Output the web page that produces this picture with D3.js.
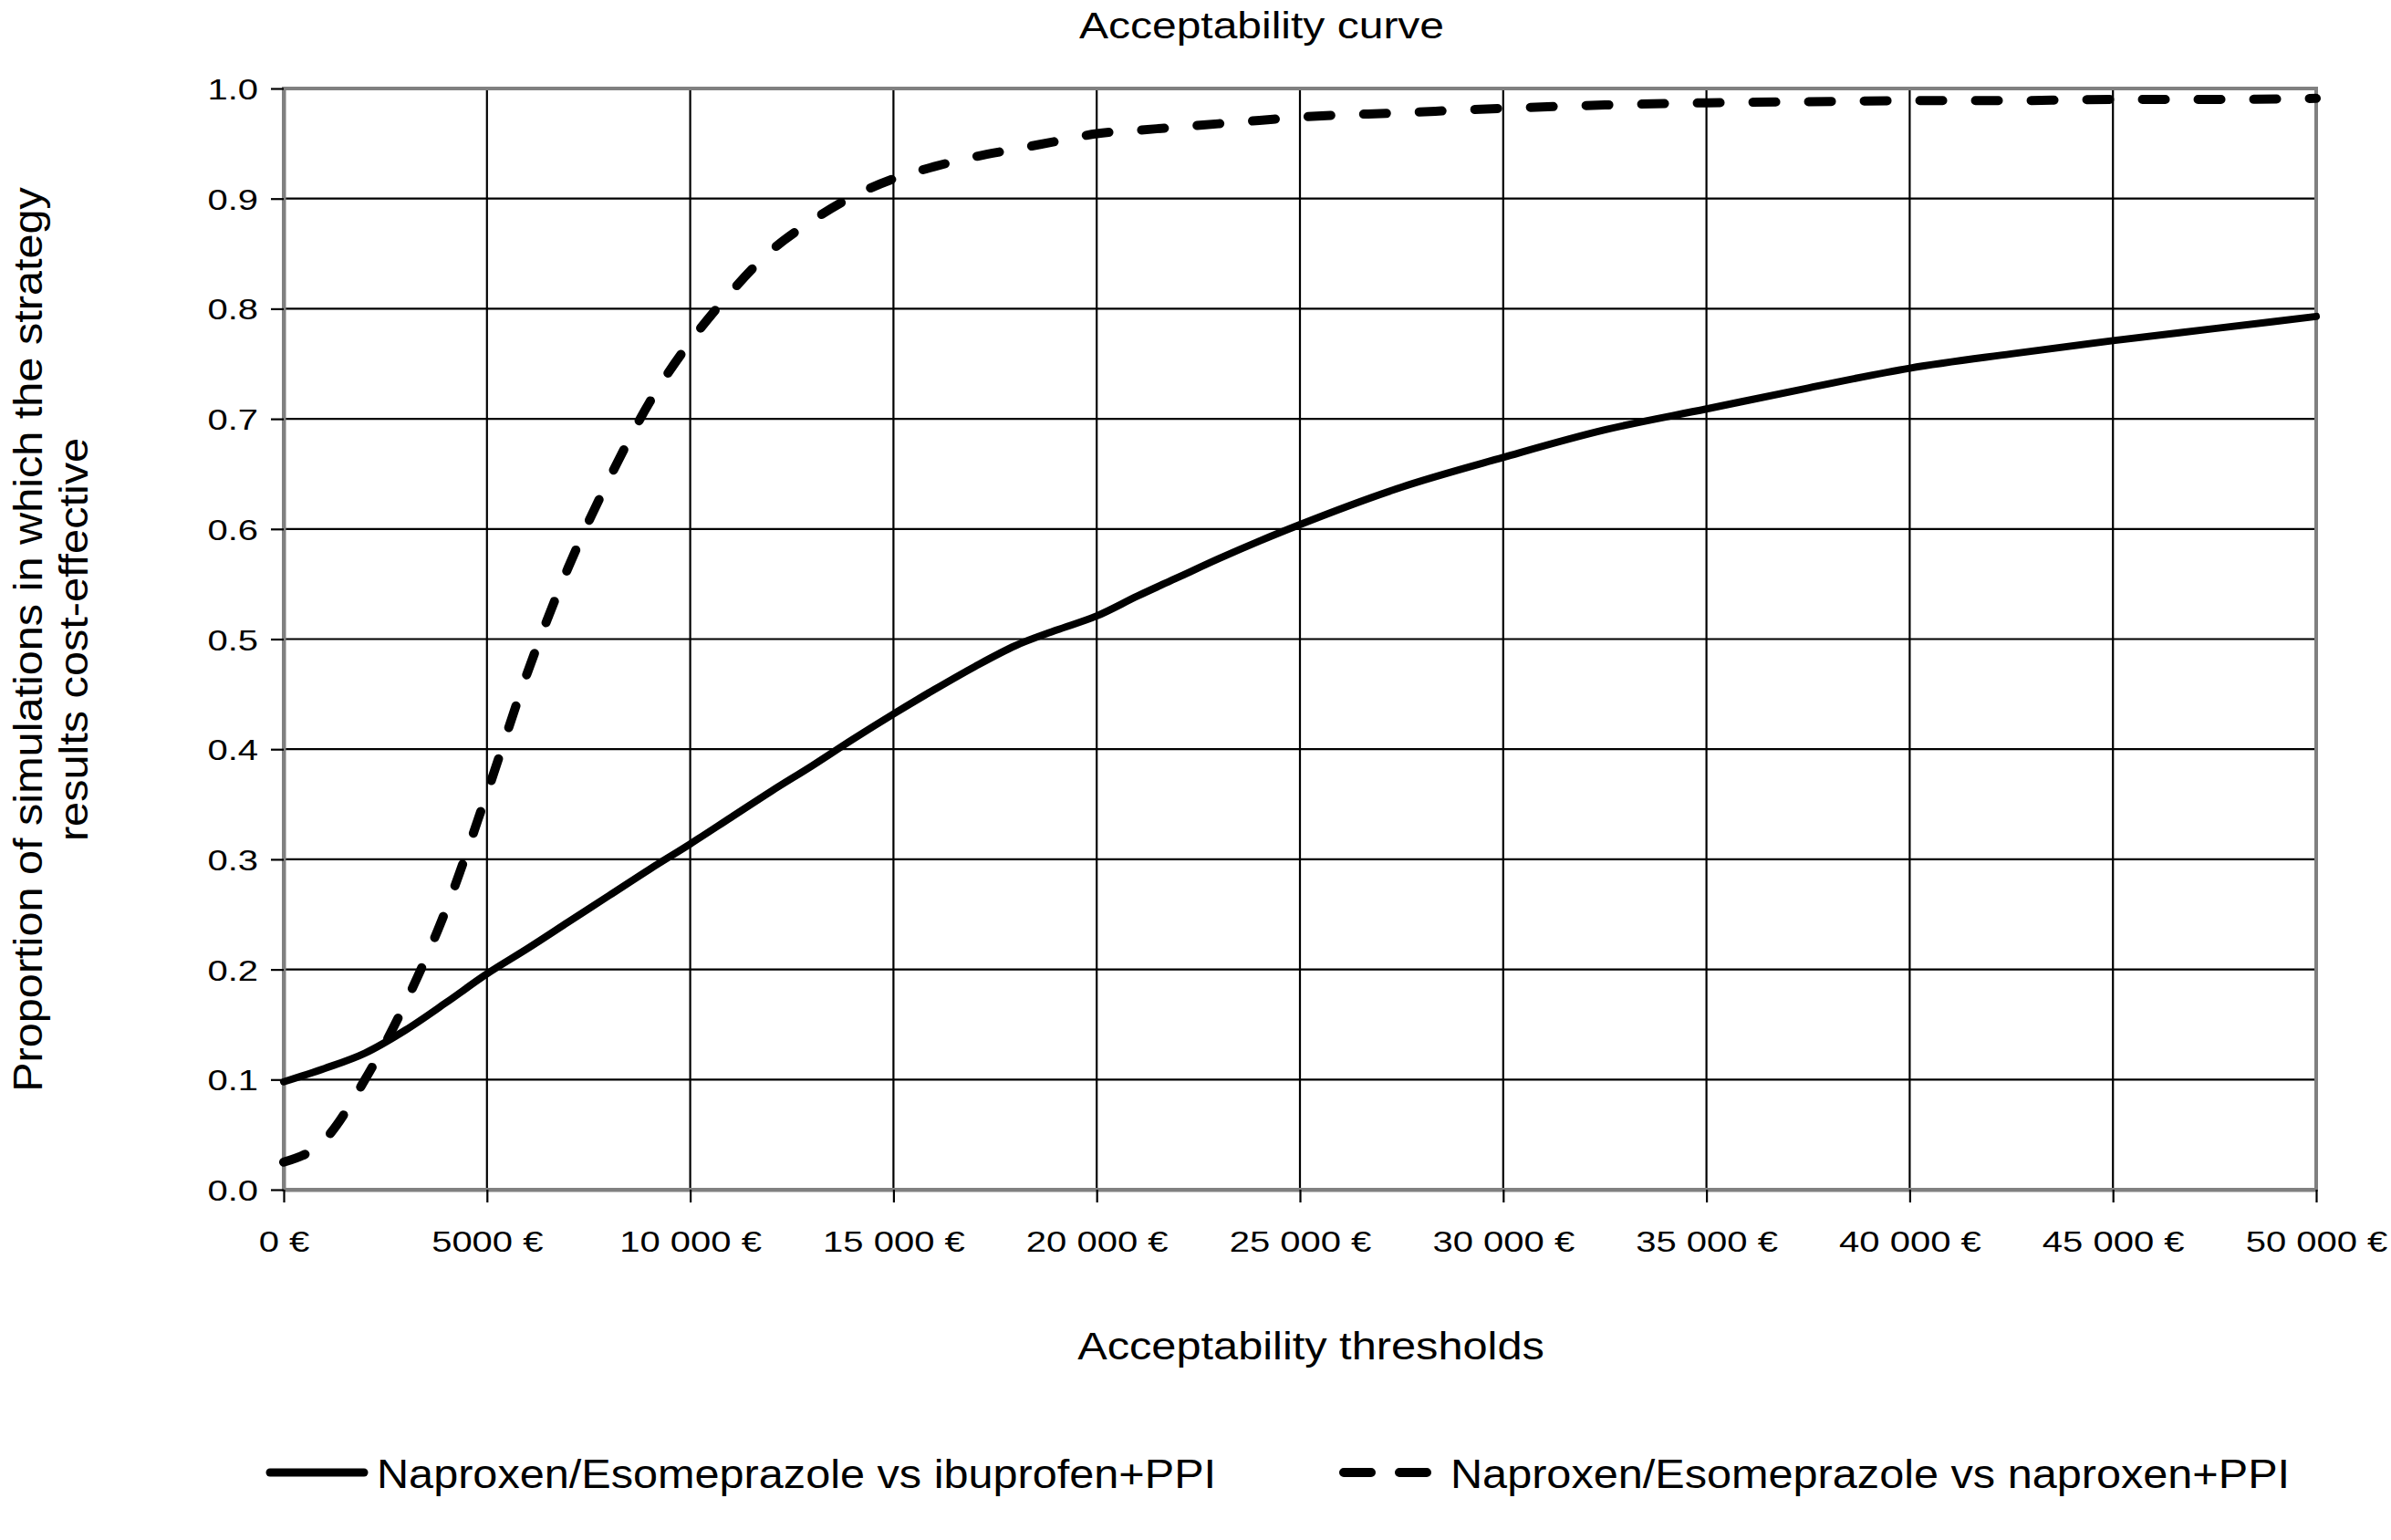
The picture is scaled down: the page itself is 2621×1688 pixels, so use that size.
<!DOCTYPE html>
<html><head><meta charset="utf-8">
<script src="https://cdn.jsdelivr.net/npm/d3@7"></script>
<style>
html,body{margin:0;padding:0;background:#fff;}
text{font-family:"Liberation Sans",Arial,sans-serif;fill:#000;}
</style></head>
<body>
<svg id="chart" width="2621" height="1688"></svg>
<script>
const thresholds = [0,1000,2000,3000,4000,5000,6000,7000,8000,9000,10000,11000,12000,13000,14000,15000,16000,17000,18000,19000,20000,21000,22000,23000,24000,25000,27500,30000,32500,35000,37500,40000,42500,45000,47500,50000];
const ibuprofenPPI = [0.098,0.110,0.124,0.145,0.170,0.196,0.219,0.243,0.267,0.291,0.314,0.338,0.362,0.385,0.409,0.432,0.454,0.475,0.494,0.508,0.521,0.539,0.556,0.573,0.589,0.604,0.638,0.665,0.69,0.709,0.728,0.746,0.759,0.771,0.782,0.793];
const naproxenPPI = [0.025,0.045,0.1,0.17,0.255,0.36,0.47,0.565,0.645,0.715,0.77,0.815,0.853,0.88,0.902,0.918,0.929,0.938,0.945,0.952,0.959,0.962,0.965,0.968,0.971,0.974,0.978,0.982,0.985,0.987,0.988,0.989,0.989,0.990,0.990,0.991];
const seriesNames = ["Naproxen/Esomeprazole vs ibuprofen+PPI","Naproxen/Esomeprazole vs naproxen+PPI"];
const xTicks = [0,5000,10000,15000,20000,25000,30000,35000,40000,45000,50000];
const xTickLabels = ["0 €","5000 €","10 000 €","15 000 €","20 000 €","25 000 €","30 000 €","35 000 €","40 000 €","45 000 €","50 000 €"];
const yTicks = [0,0.1,0.2,0.3,0.4,0.5,0.6,0.7,0.8,0.9,1.0];
const chartTitle = "Acceptability curve";
const xTitle = "Acceptability thresholds";
const yTitleLines = ["Proportion of simulations in which the strategy","results cost-effective"];

const svg = d3.select("#chart");
const L = 311, R = 2539, T = 97, B = 1304;
const x = d3.scaleLinear().domain([0,50000]).range([L,R]);
const y = d3.scaleLinear().domain([0,1]).range([B,T]);

function label(parent, tx, ty, size, sx, anchor, txt){
  return parent.append("text").attr("transform",`translate(${tx},${ty}) scale(${sx},1)`)
    .attr("text-anchor",anchor).style("font-size",size+"px").text(txt);
}

// gridlines
const g = svg.append("g");
g.selectAll("line.h").data(yTicks.slice(1,-1)).join("line")
  .attr("x1",L).attr("x2",R).attr("y1",d=>y(d)).attr("y2",d=>y(d))
  .attr("stroke","#000").attr("stroke-width",2.2);
g.selectAll("line.v").data(xTicks.slice(1,-1)).join("line")
  .attr("y1",T).attr("y2",B).attr("x1",d=>x(d)).attr("x2",d=>x(d))
  .attr("stroke","#000").attr("stroke-width",2.2);

// frame
svg.append("rect").attr("x",L).attr("y",T).attr("width",R-L).attr("height",B-T)
  .attr("fill","none").attr("stroke","#808080").attr("stroke-width",4);

// axes
const yAxis = d3.axisLeft(y).tickValues(yTicks).tickFormat(d3.format(".1f")).tickSize(14).tickSizeOuter(0);
const ya = svg.append("g").attr("transform",`translate(${L},0)`).call(yAxis);
ya.select(".domain").attr("stroke","#808080").attr("stroke-width",4);
ya.selectAll(".tick line").attr("stroke","#000").attr("stroke-width",2.2);
ya.selectAll(".tick text").attr("x",0).attr("y",0).attr("dy","0.36em")
  .attr("transform","translate(-28,0) scale(1.25,1)")
  .style("font-size","32px").style("font-family","Liberation Sans, Arial, sans-serif").attr("fill","#000");

const xAxis = d3.axisBottom(x).tickValues(xTicks).tickFormat((d,i)=>xTickLabels[i]).tickSize(14).tickSizeOuter(0);
const xa = svg.append("g").attr("transform",`translate(0,${B})`).call(xAxis);
xa.select(".domain").attr("stroke","#808080").attr("stroke-width",4);
xa.selectAll(".tick line").attr("stroke","#000").attr("stroke-width",2.2);
xa.selectAll(".tick text").attr("x",0).attr("y",0).attr("dy",0)
  .attr("transform","translate(0,68) scale(1.25,1)")
  .style("font-size","32px").style("font-family","Liberation Sans, Arial, sans-serif").attr("fill","#000");

// lines
const line = d3.line().x((d,i)=>x(thresholds[i])).y(d=>y(d)).curve(d3.curveMonotoneX);
svg.append("path").datum(ibuprofenPPI).attr("d",line).attr("fill","none")
  .attr("stroke","#000").attr("stroke-width",8).attr("stroke-linejoin","round").attr("stroke-linecap","round");
svg.append("path").datum(naproxenPPI).attr("d",line).attr("fill","none")
  .attr("stroke","#000").attr("stroke-width",10).attr("stroke-dasharray","25 36").attr("stroke-linecap","round");

// titles
label(svg, 1383, 42, 40, 1.2, "middle", chartTitle);
label(svg, 1437, 1490, 42, 1.16, "middle", xTitle);
const yt = svg.append("g").attr("transform","translate(0,701) rotate(-90)");
yTitleLines.forEach((t,i)=>label(yt, 0, 46+i*50, 44, 1.105, "middle", t));

// legend
const legend = [
  {name:seriesNames[0],dash:null,x1:296,x2:399,tx:413,w:9},
  {name:seriesNames[1],dash:"30 31",x1:1473,x2:1564,tx:1590,w:10}
];
legend.forEach(l=>{
  svg.append("line").attr("x1",l.x1).attr("x2",l.x2).attr("y1",1614).attr("y2",1614)
    .attr("stroke","#000").attr("stroke-width",l.w).attr("stroke-linecap","round")
    .attr("stroke-dasharray",l.dash);
  label(svg, l.tx, 1631, 44, 1.105, "start", l.name);
});
</script>
</body></html>
